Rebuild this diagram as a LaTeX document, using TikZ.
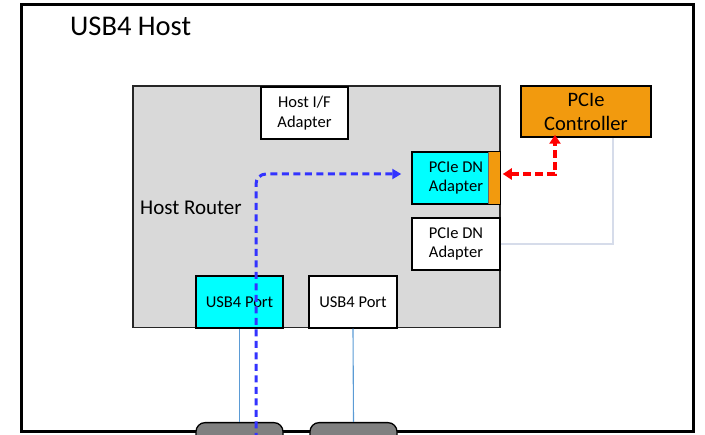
\documentclass[tikz,border=0pt]{standalone}
\usepackage{fontspec}
\setmainfont{Carlito}
\usetikzlibrary{arrows.meta}
\definecolor{routergray}{RGB}{217,217,217}
\definecolor{pcieorange}{RGB}{242,154,14}
\definecolor{portcyan}{RGB}{0,255,255}
\definecolor{linkblue}{RGB}{91,155,213}
\definecolor{pathblue}{RGB}{51,51,255}
\definecolor{wireline}{RGB}{214,220,234}
\tikzset{
  box/.style={draw=black, line width=1.5pt, inner sep=0pt, align=center,
    minimum width=87pt, minimum height=52pt, font=\fontsize{16.5}{19.5}\selectfont},
  cable/.style={draw=black, line width=1.3pt, fill=black!50,
    rounded corners=9pt, minimum width=87pt, minimum height=34pt, inner sep=0pt},
  link/.style={draw=linkblue, line width=1.1pt},
  blueflow/.style={draw=pathblue, line width=3pt, dash pattern=on 7pt off 4.5pt,
    rounded corners=10pt, -{Triangle[length=9pt,width=10pt]}},
  redflow/.style={draw=red, line width=3.3pt, dash pattern=on 8pt off 4pt,
    {Triangle[length=9pt,width=11pt]}-{Triangle[length=9pt,width=11pt]}},
}
\begin{document}
\begin{tikzpicture}[x=1pt,y=-1pt]
  \useasboundingbox (0,0) rectangle (705,435);
  \clip (0,0) rectangle (705,435);

  % host enclosure
  \draw[line width=3pt] (21,5) rectangle (693,432);
  \node[anchor=base west, inner sep=0pt, font=\fontsize{28.5}{32}\selectfont] (hosttitle) at (70,36) {USB4 Host};

  % host router
  \node[draw=black!85, line width=1.2pt, fill=routergray, inner sep=0pt,
        minimum width=367pt, minimum height=241.5pt] (router) at (316.5,206.75) {};
  \node[anchor=west, inner sep=0pt, font=\fontsize{21}{24}\selectfont] (routerlabel) at (140,208) {Host Router};

  % adapters inside the router
  \node[box, fill=white] (hostif) at (304.5,113) {Host I/F\\Adapter};
  \node[box, fill=portcyan, minimum width=88pt] (dnA) at (456,178) {PCIe DN\\Adapter};
  \fill[pcieorange] ([xshift=-12pt,yshift=-0.75pt]dnA.north east) rectangle ([xshift=-0.75pt,yshift=0.75pt]dnA.south east);
  \draw[black!60, line width=0.6pt] ([xshift=-12pt,yshift=-0.75pt]dnA.north east) -- ([xshift=-12pt,yshift=0.75pt]dnA.south east);
  \node[box, fill=white, minimum width=88pt] (dnB) at (456,244) {PCIe DN\\Adapter};
  \node[box, fill=portcyan] (usbA) at (239.5,302) {USB4 Port};
  \node[box, fill=white, minimum width=88pt] (usbB) at (353,302) {USB4 Port};

  % PCIe controller
  \node[box, fill=pcieorange, minimum width=130pt, minimum height=51pt,
        font=\fontsize{20.5}{24}\selectfont] (ctrl) at (586,111.5) {PCIe\\Controller};

  % cable plugs at the bottom edge
  \node[cable, anchor=north] (plugA) at (239.5,422) {};
  \node[cable, anchor=north] (plugB) at (353.5,422) {};

  % links from the ports to the plugs
  \draw[link] (usbA.south) -- (plugA.north);
  \draw[link] (usbB.south) -- (plugB.north);

  % spare PCIe adapter wiring
  \draw[wireline, line width=1.3pt] (dnB.east) -| ([xshift=27pt]ctrl.south);

  % tunnelled PCIe traffic
  \coordinate (flowstart) at (256,440);
  \draw[blueflow] (flowstart) |- ([xshift=-10pt,yshift=4pt]dnA.west);
  \draw[redflow] ([xshift=2pt,yshift=4pt]dnA.east) -| ([xshift=-31pt,yshift=3pt]ctrl.south);
\end{tikzpicture}
\end{document}
